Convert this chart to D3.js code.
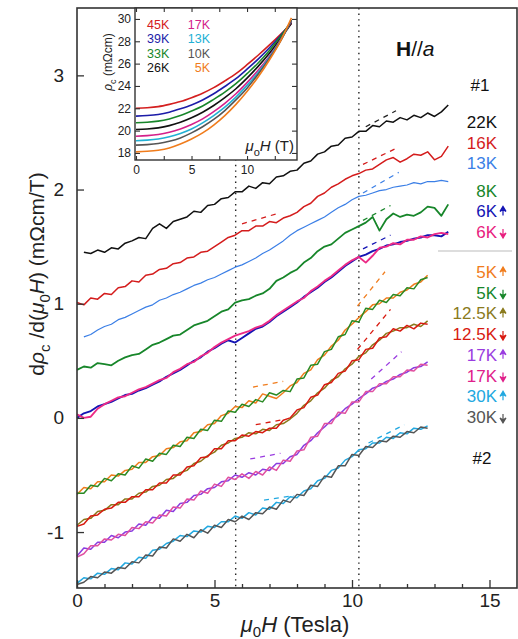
<!DOCTYPE html>
<html>
<head>
<meta charset="utf-8">
<script src="https://cdn.jsdelivr.net/npm/d3@7"></script>
<style>
    body { margin: 0; background: #fff; }
    svg { display: block; font-family: "Liberation Sans", Arial, sans-serif; }
</style>
</head>
<body>
<div class="canvas"></div>
<script>
'use strict';

// ---- main panel data (mu0H in tesla, d rho / dH in mOhm cm / T, offset curves) ----
const fieldOne = [0, 0.25, 0.5, 0.75, 1, 1.25, 1.5, 1.75, 2, 2.25, 2.5, 2.75, 3, 3.25, 3.5, 3.75, 4, 4.25, 4.5, 4.75,
    5, 5.25, 5.5, 5.75, 6, 6.25, 6.5, 6.75, 7, 7.25, 7.5, 7.75, 8, 8.25, 8.5, 8.75, 9, 9.25, 9.5, 9.75,
    10, 10.25, 10.5, 10.75, 11, 11.25, 11.5, 11.75, 12, 12.25, 12.5, 12.75, 13, 13.25, 13.5];
const fieldTwo = [0, 0.25, 0.5, 0.75, 1, 1.25, 1.5, 1.75, 2, 2.25, 2.5, 2.75, 3, 3.25, 3.5, 3.75, 4, 4.25, 4.5, 4.75,
    5, 5.25, 5.5, 5.75, 6, 6.25, 6.5, 6.75, 7, 7.25, 7.5, 7.75, 8, 8.25, 8.5, 8.75, 9, 9.25, 9.5, 9.75,
    10, 10.25, 10.5, 10.75, 11, 11.25, 11.5, 11.75, 12, 12.25, 12.5, 12.75];

// sample #1
const black22 = [null, 1.45, 1.44, 1.47, 1.45, 1.49, 1.48, 1.53, 1.55, 1.58, 1.57, 1.66, 1.70, 1.66, 1.72, 1.74, 1.76, 1.81, 1.80, 1.86,
    1.87, 1.92, 1.93, 1.98, 1.98, 2.03, 2.01, 2.06, 2.05, 2.11, 2.12, 2.16, 2.17, 2.23, 2.25, 2.31, 2.33, 2.38, 2.39, 2.45,
    2.46, 2.51, 2.51, 2.56, 2.55, 2.60, 2.59, 2.63, 2.61, 2.65, 2.63, 2.67, 2.64, 2.68, 2.74];
const red16 = [1.01, 0.99, 1.05, 1.04, 1.09, 1.08, 1.14, 1.15, 1.20, 1.19, 1.25, 1.26, 1.30, 1.31, 1.35, 1.36, 1.40, 1.41, 1.45, 1.46,
    1.50, 1.54, 1.58, 1.60, 1.64, 1.64, 1.68, 1.68, 1.72, 1.71, 1.75, 1.77, 1.80, 1.85, 1.88, 1.94, 1.97, 2.02, 2.05, 2.09,
    2.12, 2.14, 2.17, 2.18, 2.22, 2.26, 2.28, 2.24, 2.27, 2.31, 2.30, 2.33, 2.26, 2.29, 2.38];
const blue13 = [null, 0.71, 0.73, 0.77, 0.80, 0.82, 0.86, 0.88, 0.91, 0.94, 0.97, 0.99, 1.03, 1.05, 1.08, 1.10, 1.13, 1.16, 1.18, 1.21,
    1.23, 1.26, 1.29, 1.32, 1.34, 1.37, 1.40, 1.44, 1.47, 1.51, 1.55, 1.60, 1.64, 1.67, 1.70, 1.73, 1.76, 1.80, 1.84, 1.87,
    1.91, 1.94, 1.95, 1.97, 1.99, 2.00, 2.02, 2.03, 2.04, 2.06, 2.05, 2.07, 2.07, 2.08, 2.07];
const green8 = [0.42, 0.45, 0.44, 0.48, 0.47, 0.46, 0.50, 0.53, 0.55, 0.56, 0.60, 0.64, 0.66, 0.69, 0.72, 0.73, 0.77, 0.81, 0.83, 0.85,
    0.89, 0.93, 0.95, 1.01, 1.03, 1.04, 1.07, 1.09, 1.13, 1.20, 1.23, 1.27, 1.30, 1.36, 1.40, 1.46, 1.50, 1.52, 1.57, 1.62,
    1.65, 1.68, 1.71, 1.76, 1.64, 1.74, 1.79, 1.76, 1.78, 1.77, 1.80, 1.85, 1.84, 1.77, 1.87];
const navy6up = [0.00, 0.04, 0.06, 0.10, 0.12, 0.14, 0.17, 0.20, 0.21, 0.24, 0.26, 0.29, 0.32, 0.36, 0.39, 0.42, 0.46, 0.50, 0.53, 0.58,
    0.61, 0.65, 0.68, 0.66, 0.70, 0.74, 0.78, 0.80, 0.84, 0.89, 0.93, 0.97, 1.01, 1.06, 1.10, 1.14, 1.19, 1.23, 1.28, 1.33,
    1.37, 1.41, 1.43, 1.46, 1.48, 1.51, 1.52, 1.54, 1.55, 1.57, 1.58, 1.60, 1.60, 1.59, 1.63];
const pink6down = [0.03, 0.00, 0.01, 0.08, 0.12, 0.15, 0.18, 0.19, 0.22, 0.25, 0.27, 0.30, 0.33, 0.35, 0.40, 0.43, 0.47, 0.49, 0.54, 0.57,
    0.62, 0.66, 0.69, 0.72, 0.74, 0.76, 0.79, 0.81, 0.85, 0.90, 0.94, 0.98, 1.02, 1.05, 1.11, 1.15, 1.20, 1.24, 1.29, 1.34,
    1.38, 1.41, 1.36, 1.42, 1.49, 1.50, 1.53, 1.52, 1.56, 1.56, 1.59, 1.58, 1.61, 1.62, 1.61];

// sample #2 (up / down field sweeps)
const orange5up = [-0.67, -0.61, -0.62, -0.56, -0.56, -0.50, -0.51, -0.46, -0.45, -0.39, -0.39, -0.34, -0.33, -0.27, -0.26, -0.21, -0.20, -0.13, -0.12, -0.06,
    -0.05, 0.02, 0.04, 0.10, 0.09, 0.15, 0.13, 0.21, 0.19, 0.17, 0.22, 0.28, 0.31, 0.39, 0.42, 0.51, 0.55, 0.63, 0.68, 0.77,
    0.82, 0.88, 0.93, 0.99, 1.00, 1.05, 1.05, 1.10, 1.12, 1.17, 1.19, 1.25];
const green5down = [-0.66, -0.66, -0.59, -0.60, -0.53, -0.55, -0.49, -0.50, -0.42, -0.44, -0.36, -0.38, -0.31, -0.32, -0.24, -0.25, -0.17, -0.18, -0.10, -0.11,
    -0.02, -0.03, 0.06, 0.05, 0.12, 0.10, 0.16, 0.14, 0.22, 0.20, 0.24, 0.23, 0.34, 0.35, 0.46, 0.47, 0.58, 0.60, 0.71, 0.73,
    0.85, 0.84, 0.96, 0.95, 1.03, 1.01, 1.08, 1.07, 1.14, 1.13, 1.21, 1.23];
const olive12up = [-0.94, -0.89, -0.88, -0.82, -0.81, -0.76, -0.76, -0.71, -0.71, -0.66, -0.65, -0.60, -0.59, -0.54, -0.53, -0.48, -0.46, -0.40, -0.38, -0.33,
    -0.30, -0.24, -0.22, -0.18, -0.17, -0.13, -0.14, -0.10, -0.11, -0.06, -0.05, -0.01, 0.04, 0.11, 0.15, 0.22, 0.26, 0.33, 0.36, 0.43,
    0.47, 0.54, 0.57, 0.64, 0.68, 0.74, 0.76, 0.79, 0.79, 0.82, 0.80, 0.85];
const red12down = [-0.95, -0.93, -0.86, -0.85, -0.80, -0.79, -0.74, -0.74, -0.69, -0.69, -0.63, -0.63, -0.57, -0.57, -0.50, -0.50, -0.43, -0.42, -0.35, -0.34,
    -0.27, -0.27, -0.20, -0.20, -0.15, -0.16, -0.12, -0.13, -0.09, -0.09, -0.02, 0.00, 0.07, 0.09, 0.18, 0.20, 0.29, 0.31, 0.39, 0.41,
    0.50, 0.51, 0.60, 0.61, 0.70, 0.71, 0.78, 0.76, 0.81, 0.78, 0.83, 0.82];
const purple17up = [-1.21, -1.14, -1.15, -1.09, -1.09, -1.03, -1.05, -1.00, -0.99, -0.93, -0.94, -0.87, -0.88, -0.81, -0.82, -0.75, -0.74, -0.68, -0.67, -0.62,
    -0.61, -0.56, -0.55, -0.50, -0.52, -0.48, -0.50, -0.45, -0.46, -0.40, -0.40, -0.34, -0.32, -0.24, -0.20, -0.13, -0.08, -0.02, 0.02, 0.08,
    0.12, 0.17, 0.21, 0.26, 0.28, 0.32, 0.34, 0.38, 0.40, 0.44, 0.45, 0.49];
const pink17down = [-1.22, -1.19, -1.12, -1.12, -1.06, -1.07, -1.02, -1.03, -0.96, -0.97, -0.91, -0.92, -0.85, -0.86, -0.78, -0.79, -0.71, -0.72, -0.64, -0.66,
    -0.58, -0.60, -0.52, -0.54, -0.49, -0.53, -0.47, -0.50, -0.43, -0.46, -0.37, -0.38, -0.29, -0.28, -0.17, -0.16, -0.05, -0.05, 0.05, 0.04,
    0.14, 0.14, 0.23, 0.23, 0.30, 0.30, 0.36, 0.36, 0.42, 0.41, 0.47, 0.46];
const cyan30up = [-1.45, -1.40, -1.41, -1.36, -1.37, -1.32, -1.33, -1.27, -1.28, -1.22, -1.23, -1.16, -1.15, -1.10, -1.08, -1.03, -1.04, -0.99, -1.00, -0.95,
    -0.96, -0.91, -0.91, -0.86, -0.88, -0.83, -0.85, -0.79, -0.80, -0.74, -0.75, -0.69, -0.70, -0.64, -0.62, -0.55, -0.53, -0.46, -0.44, -0.37,
    -0.34, -0.28, -0.27, -0.22, -0.22, -0.17, -0.18, -0.13, -0.14, -0.09, -0.10, -0.07];
const gray30down = [-1.46, -1.44, -1.39, -1.40, -1.35, -1.36, -1.31, -1.32, -1.26, -1.27, -1.20, -1.21, -1.13, -1.14, -1.06, -1.08, -1.02, -1.05, -0.98, -1.01,
    -0.94, -0.96, -0.89, -0.91, -0.86, -0.89, -0.83, -0.84, -0.78, -0.80, -0.72, -0.74, -0.67, -0.68, -0.59, -0.60, -0.51, -0.52, -0.42, -0.42,
    -0.32, -0.33, -0.25, -0.26, -0.20, -0.21, -0.16, -0.17, -0.12, -0.13, -0.08, -0.09];

// linear-fit extensions [H1, v1, H2, v2]
const fitLines = [
    ['#222', [10.5, 2.55, 11.6, 2.69]],
    ['#d41c1c', [6.0, 1.70, 7.3, 1.79]],
    ['#d41c1c', [10.4, 2.22, 11.6, 2.36]],
    ['#3b7fe6', [10.4, 1.97, 11.7, 2.15]],
    ['#17862a', [10.4, 1.73, 11.4, 1.86]],
    ['#1414b4', [10.4, 1.48, 11.4, 1.60]],
    ['#f07c1c', [6.4, 0.27, 7.5, 0.32]],
    ['#f07c1c', [10.2, 0.98, 11.2, 1.28]],
    ['#d81a10', [6.5, -0.06, 7.4, -0.02]],
    ['#d81a10', [10.2, 0.60, 11.4, 0.95]],
    ['#9a3ce0', [6.3, -0.36, 7.4, -0.31]],
    ['#9a3ce0', [10.7, 0.34, 11.8, 0.58]],
    ['#22a8e0', [6.8, -0.72, 7.9, -0.68]],
    ['#22a8e0', [10.6, -0.22, 11.9, -0.06]]
];

const transitionFields = [5.77, 10.25];

const legendOneLabels = ['22K', '16K', '13K', '8K', '6K', '6K'];
const legendOneColors = ['#111', '#d41c1c', '#3b7fe6', '#17862a', '#1414b4', '#e8207e'];
const legendOneArrows = [0, 0, 0, 0, 1, -1];
const legendTwoLabels = ['5K', '5K', '12.5K', '12.5K', '17K', '17K', '30K', '30K'];
const legendTwoColors = ['#f07c1c', '#17862a', '#8a7a1c', '#d81a10', '#9a3ce0', '#e0208a', '#22a8e0', '#555'];
const legendTwoArrows = [1, -1, 1, -1, 1, -1, 1, -1];

// ---- inset data: rho_c (mOhm cm) vs mu0H (T) ----
const insetField = [0, 1, 2, 3, 4, 5, 6, 7, 8, 9, 10, 11, 12, 13, 14];
const rho45 = [22.0, 22.05, 22.15, 22.35, 22.6, 22.95, 23.35, 23.85, 24.45, 25.1, 25.9, 26.75, 27.65, 28.6, 29.6];
const rho39 = [21.3, 21.35, 21.45, 21.65, 21.95, 22.3, 22.75, 23.3, 23.95, 24.65, 25.5, 26.4, 27.4, 28.5, 29.7];
const rho33 = [20.7, 20.75, 20.85, 21.05, 21.35, 21.75, 22.2, 22.8, 23.45, 24.2, 25.1, 26.05, 27.15, 28.4, 29.8];
const rho26 = [20.1, 20.15, 20.25, 20.45, 20.75, 21.15, 21.65, 22.25, 22.95, 23.75, 24.7, 25.75, 26.9, 28.2, 29.6];
const rho17 = [19.5, 19.55, 19.65, 19.85, 20.15, 20.55, 21.05, 21.7, 22.45, 23.3, 24.3, 25.4, 26.65, 28.1, 29.8];
const rho13 = [19.1, 19.15, 19.25, 19.45, 19.75, 20.15, 20.7, 21.35, 22.1, 23.0, 24.05, 25.2, 26.55, 28.05, 29.9];
const rho10 = [18.7, 18.75, 18.85, 19.05, 19.35, 19.8, 20.35, 21.0, 21.8, 22.75, 23.8, 25.05, 26.45, 28.0, 29.9];
const rho5 = [18.1, 18.15, 18.25, 18.45, 18.8, 19.25, 19.8, 20.5, 21.35, 22.35, 23.5, 24.8, 26.3, 28.0, 30.1];
const insetLabels = ['45K', '39K', '33K', '26K', '17K', '13K', '10K', '5K'];
const insetColors = ['#d42020', '#1c1ca8', '#17862a', '#111', '#d4208a', '#22b0d4', '#555', '#f07c1c'];

// ---- layout ----
const width = 518, height = 639;
const frame = { left: 77, right: 517, top: 8, bottom: 588 };
const inset = { left: 135, right: 297, top: 8, bottom: 160 };

const svg = d3.select('.canvas')
    .append('svg')
    .attr('width', width)
    .attr('height', height);

const x = d3.scaleLinear().domain([0, 16]).range([frame.left, frame.right]);
const y = d3.scaleLinear().domain([-1.49, 3.59]).range([frame.bottom, frame.top]);

const mainSeries = [
    [fieldOne, black22, '#111', 1.5],
    [fieldOne, red16, '#d41c1c', 1.5],
    [fieldOne, blue13, '#3b7fe6', 1.2],
    [fieldOne, green8, '#17862a', 1.8],
    [fieldOne, navy6up, '#1414b4', 1.9],
    [fieldOne, pink6down, '#ec2a86', 1.9],
    [fieldTwo, orange5up, '#f07c1c', 1.5],
    [fieldTwo, green5down, '#2a8a24', 1.5],
    [fieldTwo, olive12up, '#8a7a1c', 1.5],
    [fieldTwo, red12down, '#d81a10', 1.5],
    [fieldTwo, purple17up, '#8a3ce0', 1.5],
    [fieldTwo, pink17down, '#e050a0', 1.5],
    [fieldTwo, cyan30up, '#22a8e0', 1.5],
    [fieldTwo, gray30down, '#555', 1.5]
];

const line = d3.line()
    .defined(d => d[1] != null)
    .x(d => x(d[0]))
    .y(d => y(d[1]));

// dotted transition lines
svg.selectAll('line.transition')
    .data(transitionFields)
    .enter().append('line')
    .attr('x1', d => x(d)).attr('x2', d => x(d))
    .attr('y1', frame.top).attr('y2', frame.bottom)
    .attr('stroke', '#222')
    .attr('stroke-width', 1.4)
    .attr('stroke-dasharray', '1.4,4.2');

svg.selectAll('path.curve')
    .data(mainSeries)
    .enter().append('path')
    .attr('d', s => line(s[0].map((h, i) => [h, s[1][i]])))
    .attr('fill', 'none')
    .attr('stroke', s => s[2])
    .attr('stroke-width', s => s[3])
    .attr('stroke-linejoin', 'round');

svg.selectAll('line.fit')
    .data(fitLines)
    .enter().append('line')
    .attr('x1', d => x(d[1][0])).attr('y1', d => y(d[1][1]))
    .attr('x2', d => x(d[1][2])).attr('y2', d => y(d[1][3]))
    .attr('stroke', d => d[0])
    .attr('stroke-width', 1.3)
    .attr('stroke-dasharray', '5,5');

// main frame and ticks
svg.append('rect')
    .attr('x', frame.left).attr('y', frame.top)
    .attr('width', frame.right - frame.left).attr('height', frame.bottom - frame.top)
    .attr('fill', 'none').attr('stroke', '#333').attr('stroke-width', 1.6);

svg.append('g').attr('transform', `translate(0,${frame.bottom})`)
    .call(d3.axisBottom(x).tickValues([0, 5, 10, 15]).tickSize(-8).tickPadding(6).tickFormat(d => String(d)));
svg.append('g').attr('transform', `translate(0,${frame.bottom})`)
    .call(d3.axisBottom(x).tickValues([1, 2, 3, 4, 6, 7, 8, 9, 11, 12, 13, 14]).tickSize(-4).tickFormat(''));
svg.append('g').attr('transform', `translate(${frame.left},0)`)
    .call(d3.axisLeft(y).tickValues([-1, 0, 1, 2, 3]).tickSize(-7).tickPadding(13).tickFormat(d => String(d)));

svg.selectAll('.domain').remove();
svg.selectAll('.tick line').attr('stroke', '#333').attr('stroke-width', 1.3);
svg.selectAll('.tick text').attr('font-size', 19).attr('fill', '#222')
    .attr('font-family', '"Liberation Sans", Arial, sans-serif');

// axis titles
const xTitle = svg.append('text')
    .attr('x', 295).attr('y', 632)
    .attr('text-anchor', 'middle')
    .attr('font-size', 22).attr('fill', '#222');
xTitle.append('tspan').attr('font-style', 'italic').text('μ');
xTitle.append('tspan').attr('dy', 5).attr('font-size', 15).text('0');
xTitle.append('tspan').attr('dy', -5).attr('font-style', 'italic').text('H');
xTitle.append('tspan').text(' (Tesla)');

const yTitle = svg.append('text')
    .attr('transform', 'translate(44,274) rotate(-90)')
    .attr('text-anchor', 'middle')
    .attr('font-size', 21).attr('fill', '#222');
yTitle.append('tspan').text('d');
yTitle.append('tspan').attr('font-style', 'italic').text('ρ');
yTitle.append('tspan').attr('dy', 6).attr('font-size', 15).text('c');
yTitle.append('tspan').attr('dy', -6).text(' /d(');
yTitle.append('tspan').attr('font-style', 'italic').text('μ');
yTitle.append('tspan').attr('dy', 6).attr('font-size', 15).text('0');
yTitle.append('tspan').attr('dy', -6).attr('font-style', 'italic').text('H');
yTitle.append('tspan').text(') (mΩcm/T)');

// H//a
const hTitle = svg.append('text').attr('x', 396).attr('y', 56).attr('font-size', 21).attr('fill', '#111');
hTitle.append('tspan').attr('font-weight', 'bold').text('H');
hTitle.append('tspan').text('//');
hTitle.append('tspan').attr('font-style', 'italic').text('a');

svg.append('text').attr('x', 480).attr('y', 91).attr('text-anchor', 'middle')
    .attr('font-size', 17).attr('fill', '#111').text('#1');
svg.append('text').attr('x', 482).attr('y', 464).attr('text-anchor', 'middle')
    .attr('font-size', 17).attr('fill', '#111').text('#2');

svg.append('line')
    .attr('x1', 438).attr('x2', 512).attr('y1', 251).attr('y2', 251)
    .attr('stroke', '#bbb').attr('stroke-width', 1);

const arrowPath = dir => dir > 0
    ? 'M0,-4 L-3,1 L0,-1 L3,1 Z M0,-2 L0,5'
    : 'M0,4 L-3,-1 L0,1 L3,-1 Z M0,2 L0,-5';

const drawLegend = (labels, colors, arrows, yPos) => {
    labels.forEach((lab, i) => {
        const ty = yPos(i);
        svg.append('text')
            .attr('x', 497).attr('y', ty + 6)
            .attr('text-anchor', 'end')
            .attr('font-size', 17).attr('fill', colors[i])
            .text(lab);
        if (arrows[i] !== 0) {
            svg.append('path')
                .attr('transform', `translate(503,${ty + (arrows[i] > 0 ? -1 : 2)})`)
                .attr('d', arrowPath(arrows[i]))
                .attr('fill', colors[i])
                .attr('stroke', colors[i])
                .attr('stroke-width', 1.2);
        }
    });
};

drawLegend(legendOneLabels, legendOneColors, legendOneArrows, i => 122 + i * 20.6 + (i >= 3 ? 7 : 0));
drawLegend(legendTwoLabels, legendTwoColors, legendTwoArrows, i => 272 + i * 20.7);

// ---- inset ----
const xi = d3.scaleLinear().domain([0, 14.5]).range([inset.left + 1, inset.right]);
const yi = d3.scaleLinear().domain([17.37, 30.98]).range([inset.bottom, inset.top]);

const ins = svg.append('g');
ins.append('rect')
    .attr('x', inset.left).attr('y', inset.top)
    .attr('width', inset.right - inset.left).attr('height', inset.bottom - inset.top)
    .attr('fill', '#fff');

const insetSeries = [rho45, rho39, rho33, rho26, rho17, rho13, rho10, rho5];
const insetLine = d3.line().curve(d3.curveMonotoneX).x(d => xi(d[0])).y(d => yi(d[1]));

ins.selectAll('path.rho')
    .data(insetSeries)
    .enter().append('path')
    .attr('d', s => insetLine(insetField.map((h, i) => [h, s[i]])))
    .attr('fill', 'none')
    .attr('stroke', (s, i) => insetColors[i])
    .attr('stroke-width', 1.6);

ins.append('rect')
    .attr('x', inset.left).attr('y', inset.top)
    .attr('width', inset.right - inset.left).attr('height', inset.bottom - inset.top)
    .attr('fill', 'none').attr('stroke', '#333').attr('stroke-width', 1.4);

const insetTicks = [0, 2.5, 5, 7.5, 10, 12.5];
const rhoTicks = [18, 20, 22, 24, 26, 28, 30];

ins.append('g').attr('transform', `translate(0,${inset.bottom})`)
    .call(d3.axisBottom(xi).tickValues(insetTicks).tickSize(-4).tickPadding(5)
        .tickFormat(d => (d % 5 === 0 ? d : '')));
ins.append('g').attr('transform', `translate(0,${inset.top})`)
    .call(d3.axisTop(xi).tickValues(insetTicks).tickSize(-4).tickFormat(''));
ins.append('g').attr('transform', `translate(${inset.left},0)`)
    .call(d3.axisLeft(yi).tickValues(rhoTicks).tickSize(-5).tickPadding(4));
ins.append('g').attr('transform', `translate(${inset.right},0)`)
    .call(d3.axisRight(yi).tickValues(rhoTicks).tickSize(-5).tickFormat(''));

ins.selectAll('.domain').remove();
ins.selectAll('.tick line').attr('stroke', '#333').attr('stroke-width', 1.1);
ins.selectAll('.tick text').attr('font-size', 12).attr('fill', '#222')
    .attr('font-family', '"Liberation Sans", Arial, sans-serif');

insetLabels.forEach((lab, i) => {
    const col = Math.floor(i / 4);
    ins.append('text')
        .attr('x', col === 0 ? 147 : 210)
        .attr('y', 29 + (i % 4) * 14.3)
        .attr('text-anchor', col === 0 ? 'start' : 'end')
        .attr('font-size', 12.5)
        .attr('fill', insetColors[i])
        .text(lab);
});

const insY = ins.append('text')
    .attr('transform', 'translate(112,62) rotate(-90)')
    .attr('text-anchor', 'middle')
    .attr('font-size', 12).attr('fill', '#222');
insY.append('tspan').attr('font-style', 'italic').text('ρ');
insY.append('tspan').attr('dy', 4).attr('font-size', 9).text('c');
insY.append('tspan').attr('dy', -4).text(' (mΩcm)');

const insX = ins.append('text')
    .attr('x', 294).attr('y', 151)
    .attr('text-anchor', 'end')
    .attr('font-size', 15).attr('fill', '#222');
insX.append('tspan').attr('font-style', 'italic').text('μ');
insX.append('tspan').attr('dy', 5).attr('font-size', 11).text('o');
insX.append('tspan').attr('dy', -5).attr('font-style', 'italic').text('H');
insX.append('tspan').text(' (T)');
</script>
</body>
</html>
